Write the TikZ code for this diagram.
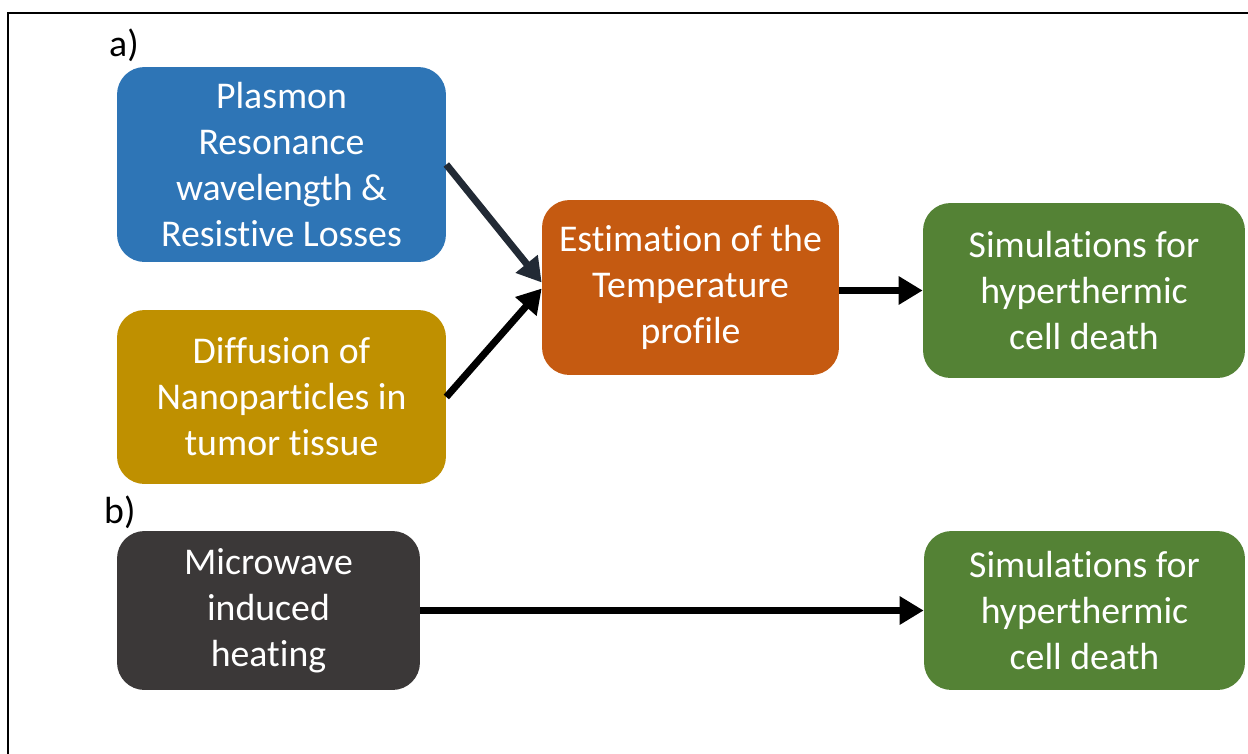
\documentclass[tikz,border=0pt]{standalone}
\usepackage{fontspec}
\setmainfont[Ligatures=NoCommon]{Carlito}
\usetikzlibrary{arrows.meta}
\definecolor{flowBlue}{HTML}{2E75B6}
\definecolor{flowGold}{HTML}{BF9000}
\definecolor{flowOrange}{HTML}{C55A11}
\definecolor{flowGreen}{HTML}{548235}
\definecolor{flowDark}{HTML}{3B3838}
\definecolor{flowNavy}{HTML}{222A35}
\tikzset{
  every picture/.style={font=\fontsize{21.5}{26.2}\selectfont},
  flow box/.style={rounded corners=0.55cm, text=white, align=center,
    inner sep=0pt},
  flow arrow/.style={-{Triangle[length=0.48cm,width=0.54cm]},
    draw=black, line width=0.14cm},
  flow frame/.style={draw=black, line width=0.05cm},
  flow tag/.style={anchor=west, text=black}
}
\begin{document}
\begin{tikzpicture}[x=0.02cm,y=-0.02cm]
  \useasboundingbox (0,0) rectangle (1248,754);
  \draw[flow frame] (8,754) -- (8,13) -- (1248,13);
  \node[flow tag] (taga) at (103,45) {a)};
  \node[flow tag] (tagb) at (98,512) {b)};
  % part a
  \node[flow box, fill=flowBlue, minimum width=6.58cm, minimum height=3.9cm]
    (plasmon) at (281.5,164.5) {Plasmon\\Resonance\\wavelength \&\\Resistive Losses};
  \node[flow box, fill=flowGold, minimum width=6.58cm, minimum height=3.48cm]
    (diffusion) at (281.5,397) {Diffusion of\\Nanoparticles in\\tumor tissue};
  \node[flow box, fill=flowOrange, minimum width=5.94cm, minimum height=3.5cm]
    (estimation) at (690.5,287.5) {Estimation of the\\Temperature\\profile};
  \node[flow box, fill=flowGreen, minimum width=6.44cm, minimum height=3.5cm]
    (simA) at (1084,290.5) {Simulations for\\hyperthermic\\cell death};
  \draw[flow arrow, draw=flowNavy] (plasmon.east) -- ([yshift=0.1cm]estimation.west);
  \draw[flow arrow] (diffusion.east) -- ([yshift=-0.02cm]estimation.west);
  \draw[flow arrow] ([yshift=-0.06cm]estimation.east) -- ([yshift=-0.06cm]estimation.east -| simA.west);
  % part b
  \node[flow box, fill=flowDark, minimum width=6.06cm, minimum height=3.18cm]
    (microwave) at (268.5,610.5) {Microwave\\induced\\heating};
  \node[flow box, fill=flowGreen, minimum width=6.42cm, minimum height=3.18cm]
    (simB) at (1084.5,610.5) {Simulations for\\hyperthermic\\cell death};
  \draw[flow arrow] (microwave.east) -- (simB.west);
\end{tikzpicture}
\end{document}
